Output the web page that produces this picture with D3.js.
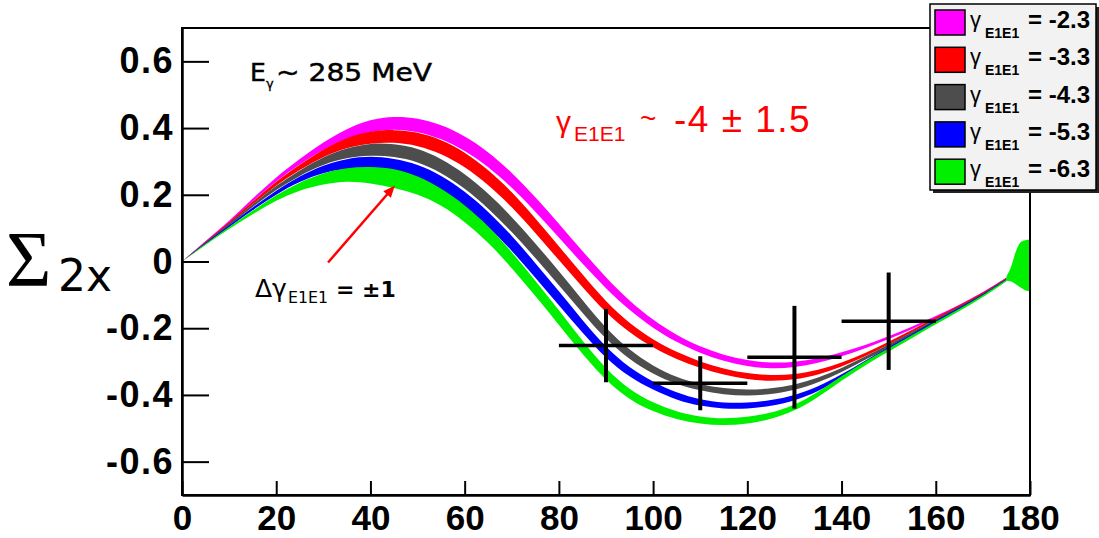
<!DOCTYPE html>
<html>
<head>
<meta charset="utf-8">
<script src="https://cdnjs.cloudflare.com/ajax/libs/d3/7.8.5/d3.min.js"></script>
<style>
  body { margin: 0; background: #fff; }
  svg { display: block; font-family: "Liberation Sans", Arial, sans-serif; }
</style>
</head>
<body>
<div id="chart"></div>
<script>
var angles = [0, 5, 10, 15, 20, 25, 30, 35, 40, 45, 50, 55, 60, 65, 70, 75, 80, 85,
              90, 95, 100, 105, 110, 115, 120, 125, 130, 135, 140, 145, 150, 155, 160, 165, 170, 175];

// band centres, Sigma_2x, one per gamma_E1E1 value
var gamma23 = [0, 0.06, 0.118, 0.185, 0.248, 0.3, 0.347, 0.384, 0.408, 0.417, 0.41, 0.39, 0.355, 0.307, 0.245, 0.172, 0.093, 0.012,
               -0.065, -0.133, -0.188, -0.232, -0.265, -0.29, -0.306, -0.313, -0.31, -0.298, -0.279, -0.256, -0.229, -0.199, -0.167, -0.133, -0.095, -0.05];
var gamma33 = [0, 0.058, 0.114, 0.176, 0.235, 0.283, 0.326, 0.357, 0.373, 0.377, 0.368, 0.345, 0.307, 0.253, 0.187, 0.108, 0.025, -0.058,
               -0.138, -0.2, -0.247, -0.283, -0.31, -0.331, -0.345, -0.35, -0.347, -0.333, -0.31, -0.28, -0.245, -0.208, -0.171, -0.134, -0.097, -0.051];
var gamma43 = [0, 0.056, 0.11, 0.168, 0.222, 0.266, 0.303, 0.326, 0.337, 0.334, 0.32, 0.288, 0.242, 0.182, 0.112, 0.033, -0.05, -0.135,
               -0.218, -0.28, -0.326, -0.358, -0.378, -0.39, -0.394, -0.39, -0.378, -0.356, -0.326, -0.29, -0.253, -0.214, -0.176, -0.138, -0.1, -0.053];
var gamma53 = [0, 0.054, 0.106, 0.158, 0.208, 0.248, 0.278, 0.294, 0.298, 0.29, 0.272, 0.238, 0.189, 0.128, 0.056, -0.027, -0.11, -0.195,
               -0.275, -0.333, -0.373, -0.405, -0.424, -0.433, -0.433, -0.425, -0.41, -0.383, -0.345, -0.302, -0.26, -0.22, -0.18, -0.141, -0.102, -0.055];
var gamma63 = [0, 0.052, 0.101, 0.147, 0.192, 0.226, 0.249, 0.262, 0.26, 0.25, 0.23, 0.195, 0.145, 0.083, 0.005, -0.08, -0.168, -0.258,
               -0.34, -0.4, -0.437, -0.462, -0.477, -0.482, -0.477, -0.464, -0.44, -0.4, -0.35, -0.305, -0.265, -0.225, -0.184, -0.145, -0.105, -0.057];

// full thickness of the bands
var bandWidth = [0, 0.004, 0.006, 0.008, 0.012, 0.016, 0.022, 0.03, 0.036, 0.038, 0.04, 0.042, 0.044, 0.045, 0.045, 0.044, 0.042, 0.038,
                 0.033, 0.028, 0.024, 0.021, 0.019, 0.018, 0.018, 0.017, 0.016, 0.014, 0.012, 0.01, 0.008, 0.007, 0.006, 0.006, 0.005, 0.004];
var greenWidth = [0, 0.004, 0.006, 0.01, 0.016, 0.024, 0.034, 0.04, 0.05, 0.058, 0.055, 0.05, 0.05, 0.05, 0.048, 0.046, 0.044, 0.04,
                  0.034, 0.03, 0.026, 0.023, 0.021, 0.02, 0.02, 0.019, 0.018, 0.016, 0.014, 0.012, 0.01, 0.009, 0.008, 0.007, 0.006, 0.005];

// green band blowing up near 180 deg
var spikeAngles = [175, 176, 177, 178, 179, 180];
var spikeTop = [-0.045, -0.015, 0.03, 0.058, 0.064, 0.066];
var spikeBottom = [-0.058, -0.06, -0.068, -0.078, -0.086, -0.09];

// measured points
var pointAngles = [90, 110, 130, 150];
var pointValues = [-0.252, -0.365, -0.287, -0.179];
var pointErrors = [0.11, 0.081, 0.154, 0.146];
var binHalfWidth = 10;

var legendLabels = ["-2.3", "-3.3", "-4.3", "-5.3", "-6.3"];
var bandColors = ["#ff00ff", "#ff0000", "#4d4d4d", "#0000ff", "#00f000"];

var xTicks = [0, 20, 40, 60, 80, 100, 120, 140, 160, 180];
var yTicks = [-0.6, -0.4, -0.2, 0, 0.2, 0.4, 0.6];

var W = 1099, H = 538;
var svg = d3.select('#chart').append('svg')
  .attr('width', W)
  .attr('height', H);

var x = d3.scaleLinear().domain([0, 180]).range([182, 1030]);
var y = d3.scaleLinear().domain([-0.7, 0.7]).range([495, 28]);

var area = d3.area()
  .curve(d3.curveBasis)
  .x(function(d) { return x(d.a); })
  .y0(function(d) { return y(d.lo); })
  .y1(function(d) { return y(d.hi); });

var bands = [gamma23, gamma33, gamma43, gamma53, gamma63];
var widths = [bandWidth, bandWidth, bandWidth, bandWidth, greenWidth];

bands.forEach(function(mid, i) {
  var pts = angles.map(function(a, j) {
    return {a: a, lo: mid[j] - widths[i][j] / 2, hi: mid[j] + widths[i][j] / 2};
  });
  svg.append('path')
    .datum(pts)
    .attr('d', area)
    .attr('fill', bandColors[i]);
});

svg.append('path')
  .datum(spikeAngles.map(function(a, j) { return {a: a, lo: spikeBottom[j], hi: spikeTop[j]}; }))
  .attr('d', area.curve(d3.curveMonotoneX))
  .attr('fill', bandColors[4]);

// error crosses
var pts = svg.append('g').attr('stroke', '#000');
pointAngles.forEach(function(a, i) {
  pts.append('line')
    .attr('x1', x(a)).attr('x2', x(a))
    .attr('y1', y(pointValues[i] - pointErrors[i]))
    .attr('y2', y(pointValues[i] + pointErrors[i]))
    .attr('stroke-width', 4);
  pts.append('line')
    .attr('x1', x(a - binHalfWidth)).attr('x2', x(a + binHalfWidth))
    .attr('y1', y(pointValues[i])).attr('y2', y(pointValues[i]))
    .attr('stroke-width', 3.5);
});

// frame
svg.append('rect')
  .attr('x', x(0)).attr('y', y(0.7))
  .attr('width', x(180) - x(0)).attr('height', y(-0.7) - y(0.7))
  .attr('fill', 'none').attr('stroke', '#000').attr('stroke-width', 2);

// axes
var yMinor = d3.range(-13, 14).map(function(k) { return k * 0.05; });
var xMinor = d3.range(0, 37).map(function(k) { return k * 5; });

var gy = svg.append('g').attr('transform', 'translate(' + x(0) + ',0)');
gy.call(d3.axisLeft(y).tickValues(yMinor).tickSize(-13).tickSizeOuter(0).tickFormat(''));
gy.call(d3.axisLeft(y).tickValues(yTicks).tickSize(-27).tickSizeOuter(0).tickPadding(8)
  .tickFormat(function(d) { return d === 0 ? '0' : d.toFixed(1); }));

var gx = svg.append('g').attr('transform', 'translate(0,' + y(-0.7) + ')');
gx.call(d3.axisBottom(x).tickValues(xMinor).tickSize(-8).tickSizeOuter(0).tickFormat(''));
gx.call(d3.axisBottom(x).tickValues(xTicks).tickSize(-14).tickSizeOuter(0).tickPadding(10));

svg.selectAll('.domain').attr('stroke-width', 2.5);
svg.selectAll('.tick line').attr('stroke-width', 2);
gy.selectAll('text').attr('font-size', 36).attr('font-weight', 'bold').attr('letter-spacing', 1.5)
  .attr('font-family', 'Liberation Sans, Arial, sans-serif');
gx.selectAll('text').attr('font-size', 35).attr('font-weight', 'bold')
  .attr('font-family', 'Liberation Sans, Arial, sans-serif');

// y title
svg.append('text').attr('x', 6).attr('y', 285).attr('font-size', 78)
  .attr('font-family', 'Liberation Serif, serif').text('\u03A3');
svg.append('text').attr('x', 58).attr('y', 291).attr('font-size', 44)
  .attr('font-family', 'DejaVu Sans, sans-serif').text('2x');

// annotations
var dv = 'DejaVu Sans, sans-serif';
var eText = svg.append('g').attr('font-family', dv).attr('stroke', '#000').attr('stroke-width', 0.5);
eText.append('text').attr('x', 250).attr('y', 81).attr('font-size', 25).text('E');
eText.append('text').attr('x', 266).attr('y', 88).attr('font-size', 13).attr('stroke-width', 0.3).text('\u03B3');
eText.append('text').attr('x', 276).attr('y', 81).attr('font-size', 25)
  .attr('textLength', 156).attr('lengthAdjust', 'spacingAndGlyphs').text('~ 285 MeV');

var red = svg.append('g').attr('fill', '#ff0000');
red.append('text').attr('x', 556).attr('y', 132).attr('font-size', 30).text('\u03B3');
red.append('text').attr('x', 574).attr('y', 141).attr('font-size', 21).text('E1E1');
red.append('text').attr('x', 640).attr('y', 128).attr('font-size', 28).text('~');
red.append('text').attr('x', 674).attr('y', 132).attr('font-size', 37).attr('letter-spacing', 1.5).text('-4 \u00B1 1.5');

svg.append('text').attr('x', 255).attr('y', 297).attr('font-size', 25).attr('font-family', dv).text('\u0394\u03B3');
svg.append('text').attr('x', 288).attr('y', 303).attr('font-size', 15).attr('font-family', dv)
  .attr('textLength', 40).attr('lengthAdjust', 'spacingAndGlyphs').text('E1E1');
svg.append('text').attr('x', 336).attr('y', 297).attr('font-size', 22).attr('font-family', dv)
  .attr('font-weight', 'bold').text('= \u00B11');

// arrow
var ax0 = x(31), ay0 = y(-0.003), ax1 = x(45.2), ay1 = y(0.228);
var ang = Math.atan2(ay1 - ay0, ax1 - ax0);
svg.append('line')
  .attr('x1', ax0).attr('y1', ay0).attr('x2', ax1 - 8 * Math.cos(ang)).attr('y2', ay1 - 8 * Math.sin(ang))
  .attr('stroke', '#ff0000').attr('stroke-width', 2.5);
var hl = 12, hw = 5;
svg.append('path')
  .attr('d', 'M' + ax1 + ',' + ay1 +
    'L' + (ax1 - hl * Math.cos(ang) + hw * Math.sin(ang)) + ',' + (ay1 - hl * Math.sin(ang) - hw * Math.cos(ang)) +
    'L' + (ax1 - hl * Math.cos(ang) - hw * Math.sin(ang)) + ',' + (ay1 - hl * Math.sin(ang) + hw * Math.cos(ang)) + 'Z')
  .attr('fill', '#ff0000');

// legend
var lg = svg.append('g').attr('transform', 'translate(930,4)');
lg.append('rect').attr('x', 3).attr('y', 3).attr('width', 166).attr('height', 186).attr('fill', '#222');
lg.append('rect').attr('width', 166).attr('height', 186)
  .attr('fill', '#f2f2f2').attr('stroke', '#000').attr('stroke-width', 1.5);

legendLabels.forEach(function(lab, i) {
  var row = lg.append('g').attr('transform', 'translate(0,' + (6 + i * 37.3) + ')');
  row.append('rect').attr('x', 5).attr('y', 0).attr('width', 30).attr('height', 25)
    .attr('fill', bandColors[i]).attr('stroke', '#000').attr('stroke-width', 1.5);
  row.append('text').attr('x', 40).attr('y', 17).attr('font-size', 22).text('\u03B3');
  row.append('text').attr('x', 55).attr('y', 28).attr('font-size', 14).attr('font-weight', 'bold').text('E1E1');
  row.append('text').attr('x', 98).attr('y', 18).attr('font-size', 24).attr('font-weight', 'bold').text('= ' + lab);
});
</script>
</body>
</html>
